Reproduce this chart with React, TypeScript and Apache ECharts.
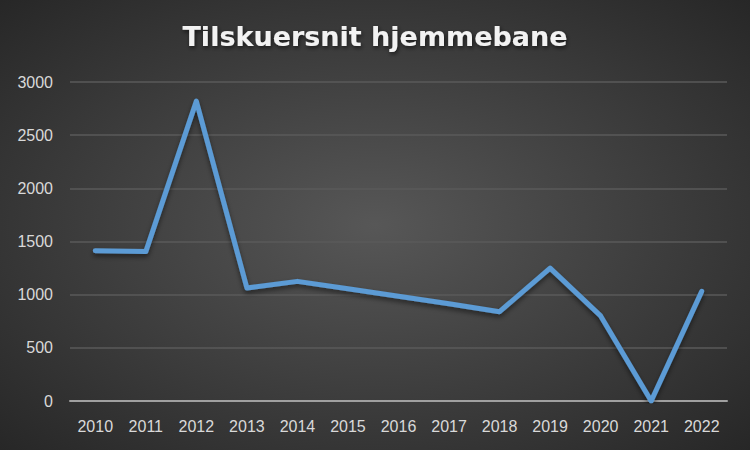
import React, { useEffect, useRef } from "react";
import * as echarts from "echarts";

const title = "Tilskuersnit hjemmebane";
const years = ["2010", "2011", "2012", "2013", "2014", "2015", "2016", "2017", "2018", "2019", "2020", "2021", "2022"];
const attendance = [1413, 1405, 2820, 1063, 1125, 1055, 985, 915, 840, 1250, 800, 0, 1031];
const yTicks = { min: 0, max: 3000, interval: 500 };

export default function App() {
  const ref = useRef<HTMLDivElement>(null);
  useEffect(() => {
    if (!ref.current) return;
    const chart = echarts.init(ref.current, null, { renderer: "svg" });
    chart.setOption({
      animation: false,
      backgroundColor: {
        type: "radial",
        x: 0.5,
        y: 0.5,
        r: 0.75,
        colorStops: [
          { offset: 0, color: "#575757" },
          { offset: 1, color: "#242424" },
        ],
      },
      title: {
        text: title,
        left: "center",
        top: 18,
        textStyle: {
          color: "#f2f2f2",
          fontFamily: "DejaVu Sans",
          fontWeight: "bold",
          fontSize: 27,
          textShadowColor: "rgba(0,0,0,0.6)",
          textShadowBlur: 4,
          textShadowOffsetX: 1,
          textShadowOffsetY: 2,
        },
      },
      grid: { left: 70, right: 23, top: 82, bottom: 49 },
      xAxis: {
        type: "category",
        data: years,
        boundaryGap: true,
        axisLine: { lineStyle: { color: "#a0a0a0", width: 2 } },
        axisTick: { show: false },
        axisLabel: { color: "#d9d9d9", fontSize: 16, fontFamily: "Liberation Sans", margin: 17 },
      },
      yAxis: {
        type: "value",
        min: yTicks.min,
        max: yTicks.max,
        interval: yTicks.interval,
        axisLine: { show: false },
        axisTick: { show: false },
        splitLine: { lineStyle: { color: "#5a5a5a", width: 1.5 } },
        axisLabel: {
          color: "#d9d9d9",
          fontSize: 16,
          fontFamily: "Liberation Sans",
          margin: 17,
          formatter: (v: number) => String(v),
        },
      },
      series: [
        {
          type: "line",
          data: attendance,
          showSymbol: false,
          symbol: "none",
          lineStyle: {
            color: "#5B9BD5",
            width: 5,
            cap: "round",
            join: "round",
            shadowColor: "rgba(0,0,0,0.5)",
            shadowBlur: 5,
            shadowOffsetY: 3,
          },
        },
      ],
    });
    return () => chart.dispose();
  }, []);
  return <div ref={ref} style={{ width: 750, height: 450, position: "absolute", left: 0, top: 0 }} />;
}
